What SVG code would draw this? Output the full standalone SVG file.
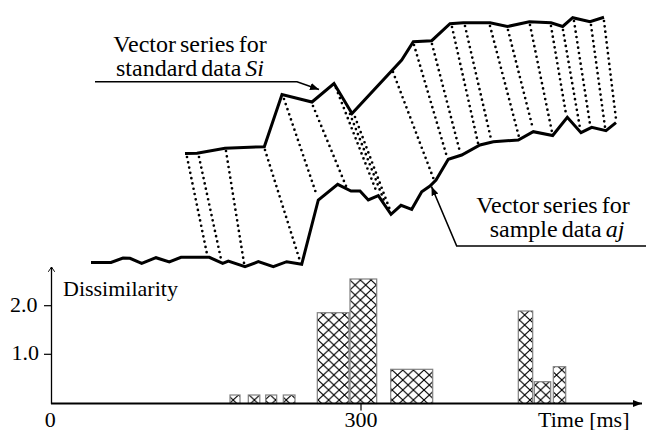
<svg xmlns="http://www.w3.org/2000/svg" width="648" height="430" viewBox="0 0 648 430">
  <style>
    .txt { font-family: "Liberation Serif", "Times New Roman", serif; fill: #000; }
    .lbl { font-size: 24px; word-spacing: -2px; }
    .axl { font-size: 22px; }
    .series { fill: none; stroke: #000; stroke-width: 3; stroke-linejoin: miter; }
    .lead { fill: none; stroke: #000; stroke-width: 1.6; }
    .dot { stroke: #000; stroke-width: 2.7; stroke-linecap: round; stroke-dasharray: 0 5.4; }
    .bar { fill: url(#hatch); stroke: #808080; stroke-width: 1.2; }
  </style>
  <defs>
    <pattern id="hatch" patternUnits="userSpaceOnUse" width="10.6" height="10">
      <rect width="10.6" height="10" fill="#fff"/>
      <path d="M0,0 L10.6,10 M10.6,0 L0,10" stroke="#000" stroke-width="1.1"/>
    </pattern>
    <marker id="arrowFill" viewBox="0 0 10 10" refX="10" refY="5" markerWidth="9" markerHeight="9" markerUnits="userSpaceOnUse" orient="auto">
      <path d="M0,1 L10,5 L0,9 Z" fill="#000"/>
    </marker>
    <marker id="arrowOpen" viewBox="0 0 10 10" refX="5" refY="1" markerWidth="8" markerHeight="8" markerUnits="userSpaceOnUse" orient="0">
      <path d="M1,7 L5,1 L9,7" fill="none" stroke="#000" stroke-width="1.2"/>
    </marker>
  </defs>

  <!-- standard data vector series Si -->
  <g id="series-standard">
    <polyline class="series" points="185,153.5 197,153.3 225,148.3 264.3,146.7 282,94.5 312,102 334,83.5 352,113.5 401.7,60 413.3,41.7 431.7,40.7 450,23.7 463.3,22.7 490,22.7 507.3,26.5 529.3,21.7 551,22.7 562.7,26.5 572.7,17.7 590,21.7 604,17.3"/>
  </g>

  <!-- sample data vector series aj -->
  <g id="series-sample">
    <polyline class="series" points="91,262.5 111,262.5 123,258 130,258.3 141.7,263.3 156,257.7 169.3,262 181,257.3 209.3,257.3 222.7,263.3 228.3,261 245,266.7 258.3,261.7 273.3,266.7 286.7,261.7 301.7,264.3 318.3,200 337.7,184.3 351,191 360,191 368.3,200 378.3,195.7 391,214.3 401,205.3 411.7,209.3 421.7,191.7 430,186 436,180 448.3,159.3 461.7,155 480,145 493.3,141.7 518.3,140 533.3,131.7 552.7,135.5 567.3,117.3 581,132.7 591.7,127.3 606,130.7 616,122.7"/>
  </g>

  <!-- dotted correspondences between the two series -->
  <g id="connectors">
    <line class="dot" x1="187" y1="157" x2="207" y2="254"/>
    <line class="dot" x1="199" y1="157" x2="221" y2="259"/>
    <line class="dot" x1="226" y1="151" x2="244" y2="263"/>
    <line class="dot" x1="265" y1="150" x2="300" y2="261"/>
    <line class="dot" x1="284" y1="99" x2="317" y2="196"/>
    <line class="dot" x1="313" y1="106" x2="346" y2="186"/>
    <line class="dot" x1="336" y1="88" x2="377" y2="193"/>
    <line class="dot" x1="350" y1="114" x2="385" y2="203"/>
    <line class="dot" x1="355" y1="117" x2="390" y2="210"/>
    <line class="dot" x1="393" y1="72" x2="434" y2="180"/>
    <line class="dot" x1="414" y1="45" x2="447" y2="157"/>
    <line class="dot" x1="432" y1="44" x2="460" y2="152"/>
    <line class="dot" x1="452" y1="27" x2="478" y2="143"/>
    <line class="dot" x1="465" y1="26" x2="491" y2="139"/>
    <line class="dot" x1="490" y1="26" x2="519" y2="137"/>
    <line class="dot" x1="508" y1="30" x2="533" y2="129"/>
    <line class="dot" x1="530" y1="25" x2="552" y2="132"/>
    <line class="dot" x1="551" y1="26" x2="566" y2="114"/>
    <line class="dot" x1="563" y1="30" x2="580" y2="128"/>
    <line class="dot" x1="574" y1="21" x2="590" y2="124"/>
    <line class="dot" x1="591" y1="25" x2="605" y2="127"/>
    <line class="dot" x1="604" y1="21" x2="616" y2="119"/>
  </g>

  <!-- callout labels -->
  <g id="label-standard">
    <polyline class="lead" points="95,81.7 297,81.7 319,89.5" marker-end="url(#arrowFill)"/>
    <text class="txt lbl" x="190" y="52.3" text-anchor="middle">Vector series for</text>
    <text class="txt lbl" x="190" y="76.3" text-anchor="middle">standard data <tspan font-style="italic">Si</tspan></text>
  </g>
  <g id="label-sample">
    <polyline class="lead" points="646,246 456.7,246 431.5,186.5" marker-end="url(#arrowFill)"/>
    <text class="txt lbl" x="553" y="212.5" text-anchor="middle">Vector series for</text>
    <text class="txt lbl" x="557" y="236.5" text-anchor="middle">sample data <tspan font-style="italic">aj</tspan></text>
  </g>

  <!-- dissimilarity bar chart -->
  <g id="chart">
    <g id="bars">
      <rect class="bar" x="230" y="395" width="10" height="8.5"/>
      <rect class="bar" x="248.3" y="395" width="11.5" height="8.5"/>
      <rect class="bar" x="265.7" y="395" width="11" height="8.5"/>
      <rect class="bar" x="283.3" y="395" width="11.7" height="8.5"/>
      <rect class="bar" x="317.3" y="312.7" width="31.7" height="90.8"/>
      <rect class="bar" x="350" y="279" width="26.7" height="124.5"/>
      <rect class="bar" x="390.7" y="369.3" width="42" height="34.2"/>
      <rect class="bar" x="518.3" y="311" width="14.4" height="92.5"/>
      <rect class="bar" x="534.3" y="381.7" width="16.4" height="21.8"/>
      <rect class="bar" x="553.3" y="366.7" width="12.4" height="36.8"/>
    </g>
    <g id="axes">
      <line x1="51.5" y1="404" x2="51.5" y2="267" stroke="#000" stroke-width="1.3" marker-end="url(#arrowOpen)"/>
      <line x1="51" y1="403.5" x2="642" y2="403.5" stroke="#000" stroke-width="2" marker-end="url(#arrowFill)"/>
      <line x1="44" y1="305.7" x2="51.5" y2="305.7" stroke="#000" stroke-width="1.2"/>
      <line x1="44" y1="354.3" x2="51.5" y2="354.3" stroke="#000" stroke-width="1.2"/>
      <line x1="361" y1="403.5" x2="361" y2="410.5" stroke="#000" stroke-width="1.2"/>
    </g>
    <text class="txt axl" x="63" y="295.5">Dissimilarity</text>
    <text class="txt axl" x="10" y="311.7">2.0</text>
    <text class="txt axl" x="11.5" y="360.3">1.0</text>
    <text class="txt axl" x="50.3" y="426.5" text-anchor="middle">0</text>
    <text class="txt axl" x="361" y="426.5" text-anchor="middle">300</text>
    <text class="txt axl" x="538" y="426.5">Time [ms]</text>
  </g>
</svg>
